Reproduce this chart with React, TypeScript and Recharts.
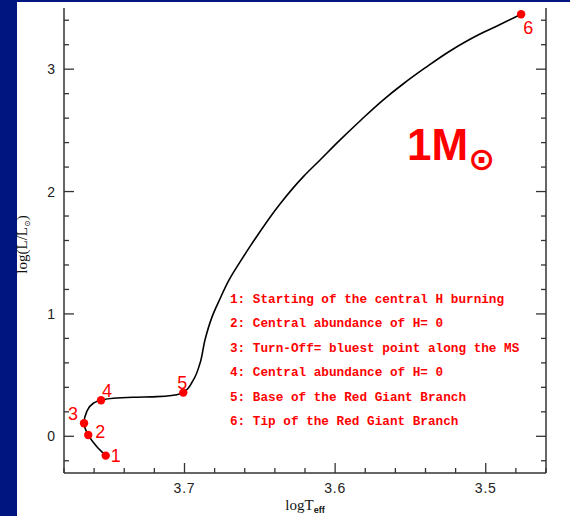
import React from 'react';
import { ComposedChart, Line, Scatter, XAxis, YAxis, Label } from 'recharts';

// evolutionary track of a 1 solar mass star
const TRACK_LOGT = [
  3.7523, 3.7583, 3.7639, 3.7667, 3.7649, 3.7605, 3.7554, 3.7473, 3.734, 3.7184,
  3.7074, 3.7008, 3.6941, 3.6897, 3.6864, 3.6817, 3.6768, 3.6704, 3.6631, 3.6558,
  3.6366, 3.6211, 3.61, 3.5967, 3.5828, 3.5682, 3.5549, 3.5403, 3.5237, 3.5051,
  3.4905, 3.4765
];
const TRACK_LOGL = [
  -0.158, -0.084, 0.011, 0.107, 0.202, 0.27, 0.295, 0.311, 0.319, 0.324,
  0.336, 0.357, 0.461, 0.597, 0.788, 0.976, 1.114, 1.278, 1.425, 1.564,
  1.899, 2.122, 2.258, 2.422, 2.585, 2.748, 2.879, 3.01, 3.149, 3.279,
  3.365, 3.449
];

// marked evolutionary stages
const STAGE_IDS = ['1', '2', '3', '4', '5', '6'];
const STAGE_LOGT = [3.7523, 3.7639, 3.7667, 3.7554, 3.7008, 3.4765];
const STAGE_LOGL = [-0.158, 0.011, 0.107, 0.295, 0.357, 3.449];
const STAGE_NOTES = [
  '1: Starting of the central H burning',
  '2: Central abundance of H= 0',
  '3: Turn-Off= bluest point along the MS',
  '4: Central abundance of H= 0',
  '5: Base of the Red Giant Branch',
  '6: Tip of the Red Giant Branch'
];

const X_TICKS = [
  3.78, 3.76, 3.74, 3.72, 3.7, 3.68, 3.66, 3.64, 3.62, 3.6, 3.58, 3.56, 3.54, 3.52, 3.5, 3.48, 3.46
];
const Y_TICKS = [
  -0.2, 0, 0.2, 0.4, 0.6, 0.8, 1, 1.2, 1.4, 1.6, 1.8, 2, 2.2, 2.4, 2.6, 2.8, 3, 3.2, 3.4
];

const track = TRACK_LOGT.map((t, i) => ({ T: t, L: TRACK_LOGL[i] }));
const stages = STAGE_IDS.map((id, i) => ({ id, T: STAGE_LOGT[i], L: STAGE_LOGL[i] }));

// where each stage number sits relative to its dot
const STAGE_LABEL_OFFSET: [number, number][] = [
  [10, 0], [12, -3], [-11, -9], [6, -9], [-1, -10], [7, 14]
];

const RED = '#ff0000';
const AXIS = '#333';
const TICK_FONT = '"Liberation Sans", Arial, sans-serif';

const isMajorX = (v: number) => Math.abs(v * 10 - Math.round(v * 10)) < 1e-6;
const isMajorY = (v: number) => Math.abs(v - Math.round(v)) < 1e-6;

// inward-pointing ticks, labelled only on the bottom and left sides
const BottomTick = (props: any) => {
  const { x, y, payload } = props;
  const major = isMajorX(payload.value);
  return (
    <g>
      <line x1={x} y1={y} x2={x} y2={y - (major ? 10 : 5)} stroke={AXIS} strokeWidth={1.3} />
      {major && (
        <text x={x} y={y + 20} textAnchor="middle" fontSize={14} letterSpacing={0.8} fill="#222" fontFamily={TICK_FONT}>
          {payload.value.toFixed(1)}
        </text>
      )}
    </g>
  );
};

const TopTick = (props: any) => {
  const { x, y, payload } = props;
  const major = isMajorX(payload.value);
  return <line x1={x} y1={y} x2={x} y2={y + (major ? 10 : 5)} stroke={AXIS} strokeWidth={1.3} />;
};

const LeftTick = (props: any) => {
  const { x, y, payload } = props;
  const major = isMajorY(payload.value);
  return (
    <g>
      <line x1={x} y1={y} x2={x + (major ? 10 : 5)} y2={y} stroke={AXIS} strokeWidth={1.3} />
      {major && (
        <text x={x - 9} y={y + 5} textAnchor="end" fontSize={14} fill="#222" fontFamily={TICK_FONT}>
          {Math.round(payload.value)}
        </text>
      )}
    </g>
  );
};

const RightTick = (props: any) => {
  const { x, y, payload } = props;
  const major = isMajorY(payload.value);
  return <line x1={x} y1={y} x2={x - (major ? 10 : 5)} y2={y} stroke={AXIS} strokeWidth={1.3} />;
};

const StageDot = (props: any) => {
  const { cx, cy, index } = props;
  const [dx, dy] = STAGE_LABEL_OFFSET[index] || [8, -8];
  return (
    <g>
      <circle cx={cx} cy={cy} r={4.2} fill={RED} />
      <text
        x={cx + dx}
        y={cy + dy}
        textAnchor="middle"
        dominantBaseline="central"
        fontSize={18}
        fill={RED}
        fontFamily={TICK_FONT}
      >
        {STAGE_IDS[index]}
      </text>
    </g>
  );
};

const YLabel = (props: any) => {
  const { viewBox } = props;
  const cx = viewBox.x + 27;
  const cy = viewBox.y + viewBox.height / 2 + 4;
  return (
    <text
      transform={`translate(${cx},${cy}) rotate(-90)`}
      textAnchor="middle"
      fontSize={15}
      fill="#111"
      fontFamily='"Liberation Serif", "Times New Roman", serif'
    >
      log(L/L
      <tspan dy={3} fontSize={8} fontFamily='"DejaVu Sans", sans-serif'>⊙</tspan>
      <tspan dy={-3}>)</tspan>
    </text>
  );
};

const XLabel = (props: any) => {
  const { viewBox } = props;
  const cx = viewBox.x + viewBox.width / 2;
  return (
    <text
      x={cx}
      y={viewBox.y + 37}
      textAnchor="middle"
      fontSize={15}
      fill="#111"
      fontFamily='"Liberation Serif", "Times New Roman", serif'
    >
      logT
      <tspan dy={3} fontSize={9} fontWeight="bold" fontFamily={TICK_FONT}>eff</tspan>
    </text>
  );
};

const StageNotes = () => (
  <g fontFamily='"Liberation Mono", "Courier New", monospace' fontWeight="bold" fontSize={12.7} fill={RED}>
    {STAGE_NOTES.map((note, i) => (
      <text key={i} x={230} y={303 + i * 24.4} xmlSpace="preserve">
        {note}
      </text>
    ))}
  </g>
);

const MassTag = () => (
  <text x={407} y={160} fill={RED} fontSize={44} fontWeight="bold" fontFamily={TICK_FONT}>
    1M
    <tspan dx={0} dy={10} fontSize={32} fontWeight="bold" fontFamily='"DejaVu Sans", sans-serif'>⊙</tspan>
  </text>
);

export default function App() {
  return (
    <div style={{ position: 'absolute', left: 0, top: 0, width: 570, height: 516, background: '#001580' }}>
      <div style={{ position: 'absolute', left: 17, top: 2, width: 553, height: 514, background: '#fff' }} />
      <div style={{ position: 'absolute', left: 0, top: 0 }}>
        <ComposedChart width={570} height={516} margin={{ top: 8, right: 0, bottom: 0, left: 0 }}>
          <XAxis
            xAxisId="bottom"
            dataKey="T"
            type="number"
            domain={[3.46, 3.78]}
            reversed
            ticks={X_TICKS}
            interval={0}
            tickSize={0}
            tickMargin={0}
            tick={<BottomTick />}
            height={43}
            axisLine={{ stroke: AXIS, strokeWidth: 1.5 }}
            allowDataOverflow
          >
            <Label content={<XLabel />} />
          </XAxis>
          <XAxis
            xAxisId="top"
            orientation="top"
            dataKey="T"
            type="number"
            domain={[3.46, 3.78]}
            reversed
            ticks={X_TICKS}
            interval={0}
            tickSize={0}
            tickMargin={0}
            tick={<TopTick />}
            height={0}
            axisLine={{ stroke: AXIS, strokeWidth: 1.5 }}
            allowDataOverflow
          />
          <YAxis
            yAxisId="left"
            type="number"
            domain={[-0.3, 3.5]}
            ticks={Y_TICKS}
            interval={0}
            tickSize={0}
            tickMargin={0}
            tick={<LeftTick />}
            width={64}
            axisLine={{ stroke: AXIS, strokeWidth: 1.5 }}
            allowDataOverflow
          >
            <Label content={<YLabel />} />
          </YAxis>
          <YAxis
            yAxisId="right"
            orientation="right"
            type="number"
            domain={[-0.3, 3.5]}
            ticks={Y_TICKS}
            interval={0}
            tickSize={0}
            tickMargin={0}
            tick={<RightTick />}
            width={24}
            axisLine={{ stroke: AXIS, strokeWidth: 1.5 }}
            allowDataOverflow
          />
          {/* luminosity rises along the whole track, so interpolate T as a function of L */}
          <Line
            xAxisId="bottom"
            yAxisId="left"
            data={track}
            dataKey="L"
            type="monotoneY"
            stroke="#000"
            strokeWidth={1.6}
            dot={false}
            activeDot={false}
            isAnimationActive={false}
          />
          <Scatter
            xAxisId="top"
            yAxisId="right"
            data={track}
            dataKey="L"
            shape={() => <g />}
            isAnimationActive={false}
          />
          <Scatter
            xAxisId="bottom"
            yAxisId="left"
            data={stages}
            dataKey="L"
            shape={<StageDot />}
            isAnimationActive={false}
          />
          <StageNotes />
          <MassTag />
        </ComposedChart>
      </div>
    </div>
  );
}
